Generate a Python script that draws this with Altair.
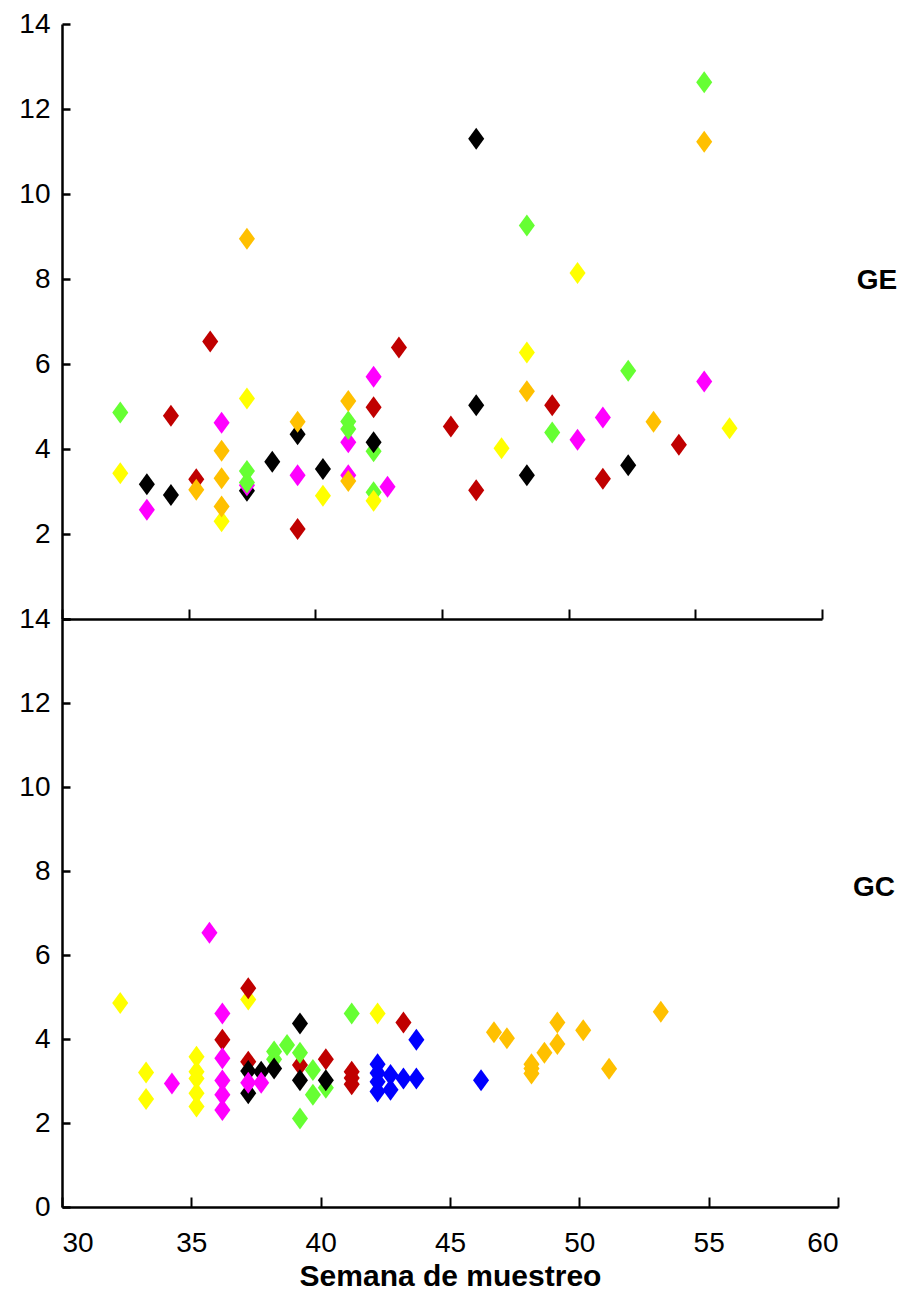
import altair as alt
import pandas as pd

# ---------------- data ----------------
groups = ["verde", "negro", "rojo", "magenta", "amarillo", "naranja", "azul"]
colors = ["#66FF33", "#000000", "#C00000", "#FF00FF", "#FFFF00", "#FFC000", "#0000FF"]

x_ticks = [30, 35, 40, 45, 50, 55, 60]
y_ticks = [0, 2, 4, 6, 8, 10, 12, 14]
ge_y_labels = [2, 4, 6, 8, 10, 12, 14]

# Panel GE (top)
ge_week = [33.35, 37.3, 34.3, 38.3, 39.3, 40.3, 46.35, 46.35, 48.35, 52.35,
           33.35, 36.3, 37.3, 39.3, 41.3, 41.3, 42.3, 42.85, 50.35, 51.35, 55.35,
           32.3, 37.3, 37.3, 41.3, 41.3, 42.3, 42.3, 48.35, 49.35, 52.35, 55.35,
           42.3,
           34.3, 35.3, 35.85, 39.3, 42.3, 43.3, 45.35, 46.35, 49.35, 51.35, 54.35,
           32.3, 36.3, 37.3, 40.3, 42.3, 47.35, 48.35, 50.35, 56.35,
           35.3, 36.3, 36.3, 36.3, 37.3, 39.3, 41.3, 41.3, 48.35, 53.35, 55.35]
ge_value = [3.17, 3.02, 2.92, 3.70, 4.35, 3.53, 11.30, 5.03, 3.38, 3.62,
            2.57, 4.62, 3.15, 3.38, 4.16, 3.38, 5.70, 3.11, 4.22, 4.74, 5.59,
            4.86, 3.48, 3.21, 4.65, 4.47, 3.95, 2.98, 9.26, 4.39, 5.84, 12.63,
            4.16,
            4.78, 3.29, 6.53, 2.12, 4.98, 6.39, 4.53, 3.03, 5.03, 3.30, 4.10,
            3.43, 2.30, 5.19, 2.90, 2.78, 4.02, 6.27, 8.14, 4.49,
            3.04, 3.96, 3.31, 2.65, 8.95, 4.64, 5.13, 3.25, 5.36, 4.64, 11.23]
ge_group = (["negro"] * 10 + ["magenta"] * 11 + ["verde"] * 11 + ["negro"]
            + ["rojo"] * 11 + ["amarillo"] * 9 + ["naranja"] * 11)

# Panel GC (bottom)
gc_week = [32.25, 33.25, 33.25, 35.2, 35.2, 35.2, 35.2, 35.2, 37.2, 42.2,
           36.2, 37.2, 37.2, 39.2, 40.2, 41.2, 41.2, 41.2, 43.2,
           38.2, 38.2, 38.7, 39.2, 39.2, 39.7, 39.7, 40.2, 41.2,
           37.2, 37.2, 37.7, 38.2, 39.2, 39.2, 40.2,
           34.25, 35.7, 36.2, 36.2, 36.2, 36.2, 36.2, 37.2, 37.7,
           42.2, 42.2, 42.2, 42.2, 42.7, 42.7, 43.2, 43.7, 43.7, 46.2,
           46.7, 47.2, 48.15, 48.15, 48.15, 48.65, 49.15, 49.15, 50.15, 51.15, 53.15]
gc_value = [4.86, 3.20, 2.57, 3.58, 3.22, 3.06, 2.71, 2.39, 4.94, 4.61,
            3.98, 5.21, 3.46, 3.38, 3.52, 3.22, 3.07, 2.92, 4.39,
            3.70, 3.52, 3.86, 3.67, 2.11, 3.26, 2.67, 2.84, 4.61,
            3.24, 2.71, 3.22, 3.30, 4.37, 3.02, 3.02,
            2.94, 6.53, 4.61, 3.54, 3.01, 2.67, 2.31, 2.96, 2.96,
            3.40, 3.19, 2.98, 2.75, 3.14, 2.79, 3.06, 3.98, 3.06, 3.02,
            4.16, 4.02, 3.40, 3.30, 3.18, 3.67, 4.39, 3.88, 4.21, 3.29, 4.65]
gc_group = (["amarillo"] * 10 + ["rojo"] * 9 + ["verde"] * 9 + ["negro"] * 7
            + ["magenta"] * 9 + ["azul"] * 10 + ["naranja"] * 11)

ge_df = pd.DataFrame({"semana": ge_week, "valor": ge_value, "grupo": ge_group})
gc_df = pd.DataFrame({"semana": gc_week, "valor": gc_value, "grupo": gc_group})

FONT = "Liberation Sans"
DIAMOND = "M0,-1L0.73,0L0,1L-0.73,0Z"


def panel(df, width, height, label, label_x, label_y, y_labels, bottom):
    xscale = alt.Scale(domain=[30, 60], nice=False, zero=False)
    yscale = alt.Scale(domain=[0, 14], nice=False)
    color = alt.Color("grupo:N", scale=alt.Scale(domain=groups, range=colors), legend=None)

    if bottom:
        xaxis = alt.Axis(values=x_ticks, ticks=False, tickSize=0, grid=False,
                         domainColor="black", domainWidth=2.5,
                         labelFont=FONT, labelFontSize=28, labelColor="black",
                         labelPadding=22, title="Semana de muestreo",
                         titleFont=FONT, titleFontSize=30, titleFontWeight="bold",
                         titleColor="black", titlePadding=4)
    else:
        xaxis = alt.Axis(values=x_ticks, ticks=False, tickSize=0, labels=False,
                         grid=False, domainColor="black", domainWidth=2.5, title=None)
    yaxis = alt.Axis(values=y_labels, ticks=False, tickSize=0, grid=False,
                     domainColor="black", domainWidth=2.5,
                     labelFont=FONT, labelFontSize=28, labelColor="black",
                     labelPadding=12, title=None)

    pts = alt.Chart(df).mark_point(shape=DIAMOND, filled=True, size=484,
                                   opacity=1, strokeWidth=0).encode(
        x=alt.X("semana:Q", scale=xscale, axis=xaxis),
        y=alt.Y("valor:Q", scale=yscale, axis=yaxis),
        color=color,
    )

    # inward-pointing tick marks (axes drawn across the plot edges)
    ticks = alt.Chart(df).mark_point(opacity=0).encode(
        x=alt.X("semana:Q", scale=xscale,
                axis=alt.Axis(orient="top", offset=-height, domain=False, labels=False,
                              values=x_ticks, tickSize=10, tickWidth=2,
                              tickColor="black", grid=False, title=None)),
        y=alt.Y("valor:Q", scale=yscale,
                axis=alt.Axis(orient="right", offset=-width, domain=False, labels=False,
                              values=y_ticks, tickSize=8, tickWidth=2.5,
                              tickColor="black", grid=False, title=None)),
    )

    txt = alt.Chart(pd.DataFrame({"t": [label], "v": [label_y]})).mark_text(
        font=FONT, fontSize=28, fontWeight="bold", color="black",
        align="center", baseline="middle",
    ).encode(
        x=alt.value(label_x),
        y=alt.Y("v:Q", scale=yscale, axis=None),
        text="t:N",
    )

    return (alt.layer(pts, ticks, txt)
            .resolve_axis(x="independent", y="independent")
            .properties(width=width, height=height))


top = panel(ge_df, 760, 595, "GE", 815, 7.95, ge_y_labels, False)
bot = panel(gc_df, 776, 588, "GC", 812, 7.6, y_ticks, True)

chart = alt.vconcat(top, bot, spacing=0, bounds="flush").properties(
    padding={"left": 10, "top": 2, "right": 0, "bottom": 0}
).configure_view(stroke=None)

chart.save("out.html", embed_options={"renderer": "svg", "actions": False})
